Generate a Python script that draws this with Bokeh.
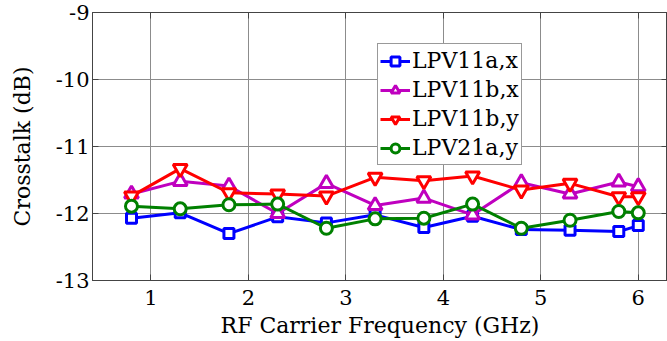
from bokeh.plotting import figure
from bokeh.models import FixedTicker, LinearAxis, Range1d, Legend, PrintfTickFormatter, CustomJSTickFormatter
from bokeh.embed import file_html
from bokeh.resources import INLINE

# RF carrier frequencies (GHz)
freq = [0.8, 1.3, 1.8, 2.3, 2.8, 3.3, 3.8, 4.3, 4.8, 5.3, 5.8, 6.0]

# Crosstalk per mode (dB)
lpv11a_x = [-12.07, -11.99, -12.30, -12.05, -12.14, -12.02, -12.21, -12.04, -12.24, -12.25, -12.27, -12.18]
lpv11b_x = [-11.71, -11.52, -11.59, -12.00, -11.55, -11.88, -11.77, -12.02, -11.54, -11.71, -11.53, -11.60]
lpv11b_y = [-11.74, -11.33, -11.69, -11.71, -11.74, -11.46, -11.51, -11.44, -11.65, -11.55, -11.75, -11.75]
lpv21a_y = [-11.89, -11.93, -11.87, -11.86, -12.22, -12.08, -12.07, -11.86, -12.22, -12.10, -11.97, -11.99]

series_names = ["LPV11a,x", "LPV11b,x", "LPV11b,y", "LPV21a,y"]
x_ticks = [1, 2, 3, 4, 5, 6]
y_ticks = [-13, -12, -11, -10, -9]

FONT = "DejaVu Serif"

p = figure(width=667, height=341, output_backend="svg", toolbar_location=None,
           x_range=Range1d(0.4, 6.3), y_range=Range1d(-13, -9),
           min_border_left=92, min_border_right=0, min_border_top=12, min_border_bottom=61)
p.background_fill_color = "white"
p.border_fill_color = "white"
p.outline_line_color = "#444444"
p.outline_line_width = 1

styles = [
    (lpv11a_x, "#0000ff", "square", 10),
    (lpv11b_x, "#bf00bf", "triangle", 14),
    (lpv11b_y, "#ff0000", "inverted_triangle", 14),
    (lpv21a_y, "#008000", "circle", 12),
]

items = []
for name, (vals, color, marker, size) in zip(series_names, styles):
    ln = p.line(freq, vals, line_color=color, line_width=3)
    sc = p.scatter(freq, vals, marker=marker, size=size, line_color=color,
                   line_width=3, fill_color="white")
    items.append((name, [ln, sc]))

legend = Legend(items=items, location=(285, 115))
legend.label_text_font = FONT
legend.label_text_font_size = "22px"
legend.label_text_color = "black"
legend.glyph_width = 30
legend.glyph_height = 22
legend.label_standoff = 2
legend.spacing = 0
legend.padding = 2
legend.margin = 0
legend.label_height = 29
legend.border_line_color = "#333333"
legend.border_line_width = 1
legend.background_fill_color = "white"
legend.background_fill_alpha = 1
p.add_layout(legend, "center")

for ax in (p.xaxis[0], p.yaxis[0]):
    ax.major_label_text_font = FONT
    ax.major_label_text_font_size = "21px"
    ax.major_label_text_color = "black"
    ax.axis_label_text_font = FONT
    ax.axis_label_text_font_size = "22px"
    ax.axis_label_text_font_style = "normal"
    ax.axis_label_text_color = "black"
    ax.axis_line_color = "#444444"
    ax.major_tick_line_color = "#444444"
    ax.major_tick_in = 6
    ax.major_tick_out = 0
    ax.minor_tick_in = 0
    ax.minor_tick_out = 0

p.xaxis.ticker = FixedTicker(ticks=x_ticks)
p.yaxis.ticker = FixedTicker(ticks=y_ticks)
p.xaxis.formatter = PrintfTickFormatter(format="%d")
p.yaxis.formatter = PrintfTickFormatter(format="%d")
p.xaxis.axis_label = "RF Carrier Frequency (GHz)"
p.yaxis.axis_label = "Crosstalk (dB)"
p.xaxis.major_label_standoff = 9
p.xaxis.axis_label_standoff = 5
p.yaxis.major_label_standoff = 3
p.yaxis.axis_label_standoff = 18

# box ticks on the top and right edges
for loc, tk in (("above", x_ticks), ("right", y_ticks)):
    ax = LinearAxis(ticker=FixedTicker(ticks=tk),
                    formatter=CustomJSTickFormatter(code="return ''"))
    ax.major_label_standoff = 0
    ax.axis_line_color = "#444444"
    ax.major_tick_line_color = "#444444"
    ax.major_tick_in = 6
    ax.major_tick_out = 0
    ax.minor_tick_in = 0
    ax.minor_tick_out = 0
    p.add_layout(ax, loc)

p.xgrid.ticker = FixedTicker(ticks=x_ticks)
p.ygrid.ticker = FixedTicker(ticks=y_ticks)
p.grid.grid_line_color = "#8c8c8c"
p.grid.grid_line_width = 1
p.grid.grid_line_alpha = 1

open("out.html", "w").write(file_html(p, INLINE))
